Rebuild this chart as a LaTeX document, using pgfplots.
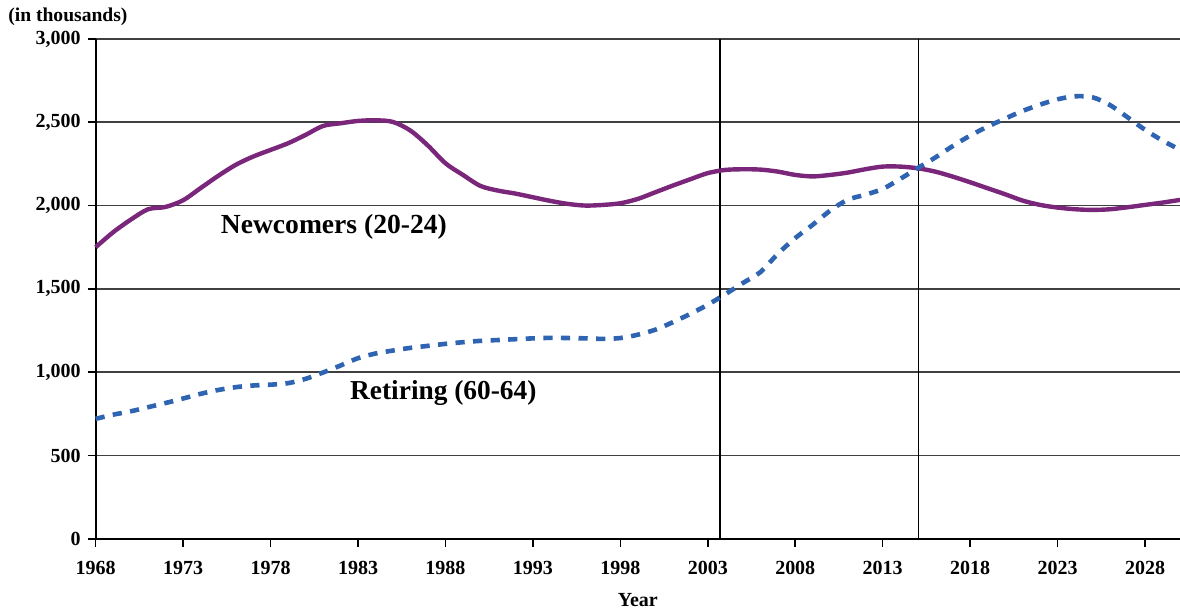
\documentclass[border=0pt]{standalone}
\usepackage{pgfplots}
\pgfplotsset{compat=1.18}
\usepackage{pgfplotstable}
\usepackage{fontspec}
\setmainfont{Liberation Serif}
\definecolor{newc}{RGB}{122,38,122}
\definecolor{reti}{RGB}{46,100,178}

\pgfplotstableread{
year val
1968 1750
1969 1840
1970 1915
1971 1978
1972 1992
1973 2032
1974 2105
1975 2178
1976 2244
1977 2294
1978 2334
1979 2374
1980 2424
1981 2478
1982 2494
1983 2508
1984 2512
1985 2502
1986 2450
1987 2360
1988 2254
1989 2184
1990 2118
1991 2090
1992 2072
1993 2050
1994 2028
1995 2010
1996 2000
1997 2004
1998 2014
1999 2040
2000 2080
2001 2120
2002 2158
2003 2195
2004 2214
2005 2218
2006 2216
2007 2204
2008 2184
2009 2175
2010 2184
2011 2198
2012 2218
2013 2234
2014 2234
2015 2224
2016 2204
2017 2174
2018 2140
2019 2104
2020 2068
2021 2030
2022 2004
2023 1988
2024 1978
2025 1974
2026 1978
2027 1990
2028 2004
2029 2018
2030 2034
}\newcomers

\pgfplotstableread{
year val
1968 720
1969 745
1970 765
1971 790
1972 815
1973 842
1974 870
1975 893
1976 910
1977 920
1978 925
1979 934
1980 960
1981 998
1982 1040
1983 1084
1984 1112
1985 1130
1986 1146
1987 1158
1988 1170
1989 1180
1990 1188
1991 1193
1992 1198
1993 1203
1994 1206
1995 1205
1996 1203
1997 1200
1998 1205
1999 1225
2000 1255
2001 1300
2002 1350
2003 1405
2004 1468
2005 1535
2006 1600
2007 1710
2008 1805
2009 1885
2010 1970
2011 2035
2012 2065
2013 2100
2014 2160
2015 2225
2016 2288
2017 2357
2018 2420
2019 2474
2020 2522
2021 2568
2022 2606
2023 2638
2024 2656
2025 2650
2026 2603
2027 2530
2028 2455
2029 2390
2030 2335
}\retiring

\begin{document}
\begin{tikzpicture}
\begin{axis}[
  scale only axis,
  width=542.4bp, height=250bp,
  xmin=1968, xmax=2030,
  ymin=0, ymax=3000,
  axis x line=bottom, axis y line=left,
  axis line style={black, line width=1bp, -},
  xtick={1968,1973,...,2028},
  ytick={0,500,...,3000},
  tick align=outside,
  major tick length=4bp,
  tick style={black, line width=0.8bp},
  ymajorgrids,
  grid style={black!75, line width=0.8bp},
  /pgf/number format/1000 sep={,},
  /pgf/number format/assume math mode=true,
  xticklabel={\pgfmathprintnumber[1000 sep={}]{\tick}},
  ticklabel style={font=\fontsize{10bp}{12bp}\selectfont\bfseries},
  xticklabel style={yshift=-3.8bp},
  clip=false,
]
\draw[black, line width=0.7bp] (axis cs:2003.7,0) -- (axis cs:2003.7,3000);
\draw[black, line width=0.7bp] (axis cs:2015.05,0) -- (axis cs:2015.05,3000);
\addplot[newc, line width=2.2bp, smooth, no markers] table[x=year,y=val] {\newcomers};
\addplot[reti, line width=2.3bp, smooth, no markers, dash pattern=on 4.6bp off 4.2bp] table[x=year,y=val] {\retiring};
\node[font=\fontsize{13.8bp}{16bp}\selectfont\bfseries] at (axis cs:1981.62,1874) {Newcomers (20-24)};
\node[font=\fontsize{13.7bp}{16bp}\selectfont\bfseries] at (axis cs:1987.88,874) {Retiring (60-64)};
\node[font=\fontsize{10bp}{12bp}\selectfont\bfseries, yshift=-30.5bp] at (rel axis cs:0.5,0) {Year};
\node[font=\fontsize{9.8bp}{12bp}\selectfont\bfseries, anchor=west, inner sep=0pt, xshift=-43.9bp, yshift=11bp] at (rel axis cs:0,1) {(in thousands)};
\coordinate (ll) at (rel axis cs:0,0);
\coordinate (ur) at (rel axis cs:1,1);
\end{axis}
\pgfresetboundingbox
\path ([shift={(-47.85bp,-35bp)}]ll) rectangle ([shift={(0bp,19.5bp)}]ur);
\end{tikzpicture}
\end{document}
